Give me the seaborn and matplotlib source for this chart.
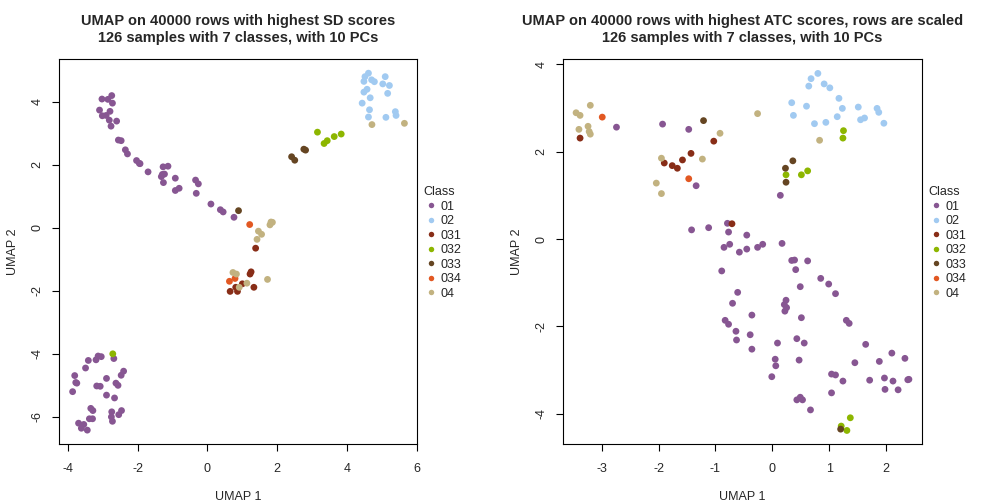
import numpy as np
import pandas as pd
import matplotlib
matplotlib.use("Agg")
import matplotlib.pyplot as plt
import seaborn as sns

classes = ["01", "02", "031", "032", "033", "034", "04"]
class_colors = ["#875692", "#A1CAF1", "#882D17", "#8DB600", "#654522", "#E25822", "#C2B280"]

# ---- Left panel (SD) ----
sd_01_x = [-2.74, -3.02, -2.85, -2.72, -3.09, -2.79, -3.01, -2.90, -2.81, -2.60, -2.76, -2.55, -2.47, -2.35,
           -2.29, -2.03, -1.95, -1.93, -1.70, -1.27, -1.13, -1.29, -1.23, -1.32, -1.26, -0.92, -0.34, -0.26,
           -0.92, -0.81, -0.32, 0.10, 0.37, 0.45, 0.76,
           -2.68, -3.13, -3.04, -3.19, -3.41, -3.49, -3.80, -3.77, -3.74, -3.86, -3.17, -3.07, -2.89, -2.62,
           -2.56, -2.47, -2.40, -2.89, -2.66, -3.34, -3.28, -3.38, -3.29, -2.74, -2.75, -2.72, -2.54, -2.46,
           -3.69, -3.54, -3.61, -3.44]
sd_01_y = [4.19, 4.08, 4.07, 3.95, 3.73, 3.69, 3.55, 3.56, 3.41, 3.38, 3.22, 2.78, 2.76, 2.47,
           2.34, 2.13, 2.04, 2.03, 1.77, 1.93, 1.95, 1.69, 1.70, 1.62, 1.43, 1.57, 1.51, 1.39,
           1.18, 1.25, 1.09, 0.75, 0.57, 0.50, 0.33,
           -4.15, -4.07, -4.09, -4.19, -4.21, -4.45, -4.69, -4.91, -4.93, -5.20, -5.02, -5.03, -4.78, -4.93,
           -5.00, -4.68, -4.55, -5.31, -5.40, -5.73, -5.80, -6.06, -6.06, -5.84, -6.00, -6.14, -5.93, -5.80,
           -6.20, -6.24, -6.36, -6.42]
sd_02_x = [4.61, 4.51, 4.48, 4.70, 4.78, 5.09, 5.02, 5.21, 4.57, 4.48, 4.66, 5.16, 4.43, 4.64, 4.61, 5.11, 5.38, 5.40]
sd_02_y = [4.90, 4.79, 4.64, 4.69, 4.63, 4.79, 4.56, 4.51, 4.39, 4.30, 4.12, 4.26, 3.95, 3.74, 3.51, 3.50, 3.68, 3.56]
sd_031_x = [1.38, 1.25, 1.22, 0.81, 1.00, 0.65, 0.86, 1.33]
sd_031_y = [-0.65, -1.40, -1.47, -1.89, -1.78, -2.02, -2.02, -1.89]
sd_032_x = [-2.71, 3.15, 3.34, 3.43, 3.63, 3.83]
sd_032_y = [-4.00, 3.03, 2.67, 2.76, 2.89, 2.97]
sd_033_x = [0.89, 2.76, 2.81, 2.41, 2.50]
sd_033_y = [0.54, 2.49, 2.46, 2.25, 2.14]
sd_034_x = [1.21, 0.63, 0.79]
sd_034_y = [0.10, -1.70, -1.61]
sd_04_x = [1.82, 1.86, 1.79, 1.46, 1.55, 1.42, 0.73, 0.83, 1.13, 0.91, 1.72, 4.71, 5.64]
sd_04_y = [0.18, 0.17, 0.09, -0.11, -0.21, -0.37, -1.42, -1.47, -1.76, -1.89, -1.64, 3.27, 3.31]

# ---- Right panel (ATC) ----
atc_01_x = [-2.74, -1.93, -1.47, -1.34, 0.14, -1.42, -1.12, -0.79, -0.77, -0.45, -0.26, -0.17, -0.85, -0.75,
            -0.58, -0.45, 0.17, -0.89, 0.34, 0.39, 0.41, 0.62, 0.85, 0.99, 1.11, -0.61, -0.70, 0.49, 0.24,
            0.21, 0.25, 0.22, -0.83, -0.77, -0.36, 0.51, -0.64, -0.63, -0.39, -0.36, 0.43, 0.56, 0.09, 0.05,
            0.06, -0.01, 0.47, 1.30, 1.35, 1.64, 1.45, 1.88, 2.10, 2.33, 1.04, 1.11, 1.24, 1.71, 1.97, 1.98,
            2.12, 2.21, 2.38, 2.40, 1.04, 0.43, 0.49, 0.53, 0.67]
atc_01_y = [2.56, 2.63, 2.51, 1.22, 1.00, 0.21, 0.26, 0.36, 0.16, 0.09, -0.19, -0.12, -0.19, -0.12,
            -0.30, -0.23, -0.10, -0.73, -0.49, -0.48, -0.70, -0.50, -0.90, -1.03, -1.25, -1.22, -1.47, -1.09, -1.40,
            -1.50, -1.57, -1.65, -1.86, -1.95, -1.74, -1.80, -2.11, -2.31, -2.19, -2.52, -2.28, -2.38, -2.38, -2.75,
            -2.90, -3.15, -2.77, -1.86, -1.93, -2.41, -2.83, -2.80, -2.61, -2.73, -3.09, -3.11, -3.25, -3.23, -3.18, -3.44,
            -3.25, -3.45, -3.22, -3.21, -3.52, -3.68, -3.62, -3.68, -3.91]
atc_02_x = [0.80, 0.68, 0.64, 0.91, 1.01, 0.34, 0.60, 0.37, 1.17, 1.23, 1.51, 1.84, 1.87, 1.14, 0.74, 0.94, 1.55, 1.62, 1.96]
atc_02_y = [3.79, 3.67, 3.50, 3.55, 3.46, 3.12, 3.04, 2.83, 3.22, 2.99, 3.02, 2.99, 2.90, 2.80, 2.64, 2.67, 2.73, 2.77, 2.65]
atc_031_x = [-3.38, -1.90, -1.76, -1.67, -1.58, -1.43, -1.03, -0.71]
atc_031_y = [2.31, 1.74, 1.68, 1.62, 1.81, 1.96, 2.24, 0.35]
atc_032_x = [0.24, 0.51, 0.62, 1.25, 1.24, 1.21, 1.31, 1.37]
atc_032_y = [1.47, 1.47, 1.56, 2.48, 2.31, -4.28, -4.38, -4.09]
atc_033_x = [-1.21, 0.23, 0.36, 0.24, 1.20]
atc_033_y = [2.71, 1.62, 1.79, 1.30, -4.35]
atc_034_x = [-2.99, -1.47]
atc_034_y = [2.79, 1.38]
atc_04_x = [-3.45, -3.38, -3.20, -3.40, -3.24, -3.22, -3.20, -0.26, -0.92, -1.23, -1.95, -2.04, -1.95, 0.83]
atc_04_y = [2.89, 2.83, 3.06, 2.51, 2.58, 2.46, 2.40, 2.87, 2.42, 1.83, 1.85, 1.28, 1.04, 2.26]

titles = ["UMAP on 40000 rows with highest SD scores\n126 samples with 7 classes, with 10 PCs",
          "UMAP on 40000 rows with highest ATC scores, rows are scaled\n126 samples with 7 classes, with 10 PCs"]
x_ticks = [[-4, -2, 0, 2, 4, 6], [-3, -2, -1, 0, 1, 2]]
y_ticks = [[-6, -4, -2, 0, 2, 4], [-4, -2, 0, 2, 4]]
x_lims = [(-4.25, 6.0), (-3.68, 2.63)]
y_lims = [(-6.86, 5.35), (-4.69, 4.12)]


def build(xs, ys):
    frames = []
    for c, x, y in zip(classes, xs, ys):
        frames.append(pd.DataFrame({"x": x, "y": y, "Class": c}))
    return pd.concat(frames, ignore_index=True)


df_sd = build([sd_01_x, sd_02_x, sd_031_x, sd_032_x, sd_033_x, sd_034_x, sd_04_x],
              [sd_01_y, sd_02_y, sd_031_y, sd_032_y, sd_033_y, sd_034_y, sd_04_y])
df_atc = build([atc_01_x, atc_02_x, atc_031_x, atc_032_x, atc_033_x, atc_034_x, atc_04_x],
               [atc_01_y, atc_02_y, atc_031_y, atc_032_y, atc_033_y, atc_034_y, atc_04_y])

sns.set_theme(style="white")
plt.rcParams["font.family"] = ["Liberation Sans", "DejaVu Sans"]

fig = plt.figure(figsize=(10.08, 5.04), dpi=100)
boxes = [(59, 417), (563, 922)]
top, bottom = 59, 444
palette = dict(zip(classes, class_colors))

for i, df in enumerate([df_sd, df_atc]):
    x0, x1 = boxes[i]
    ax = fig.add_axes([x0 / 1008, 1 - bottom / 504, (x1 - x0) / 1008, (bottom - top) / 504])
    sns.scatterplot(data=df, x="x", y="y", hue="Class", hue_order=classes, palette=palette,
                    s=24, linewidth=0, ax=ax)
    ax.set_xlim(*x_lims[i])
    ax.set_ylim(*y_lims[i])
    ax.set_xticks(x_ticks[i])
    ax.set_yticks(y_ticks[i])
    ax.set_xticklabels([str(t) for t in x_ticks[i]])
    ax.set_yticklabels([str(t) for t in y_ticks[i]], rotation=90, va="center")
    ax.tick_params(axis="x", direction="out", length=5, width=0.8, color="black",
                   labelsize=9, pad=9, bottom=True)
    ax.tick_params(axis="y", direction="out", length=5, width=0.8, color="black",
                   labelsize=9, pad=6, left=True)
    for sp in ax.spines.values():
        sp.set_visible(True)
        sp.set_color("black")
        sp.set_linewidth(0.8)
    ax.set_xlabel("UMAP 1", fontsize=9, labelpad=11)
    ax.set_ylabel("UMAP 2", fontsize=9, labelpad=9)
    ax.set_title(titles[i], fontsize=10.5, fontweight="bold", pad=12, linespacing=1.3)
    sns.move_legend(ax, loc="upper left", bbox_to_anchor=(1.011, 0.676), frameon=False,
                    title="Class", fontsize=9, title_fontsize=9, markerscale=0.8,
                    handletextpad=0.2, handlelength=1.2, labelspacing=0.2, borderaxespad=0.0,
                    borderpad=0.2)
    leg = ax.get_legend()
    leg._legend_box.align = "left"

fig.savefig("out.png", dpi=100)
